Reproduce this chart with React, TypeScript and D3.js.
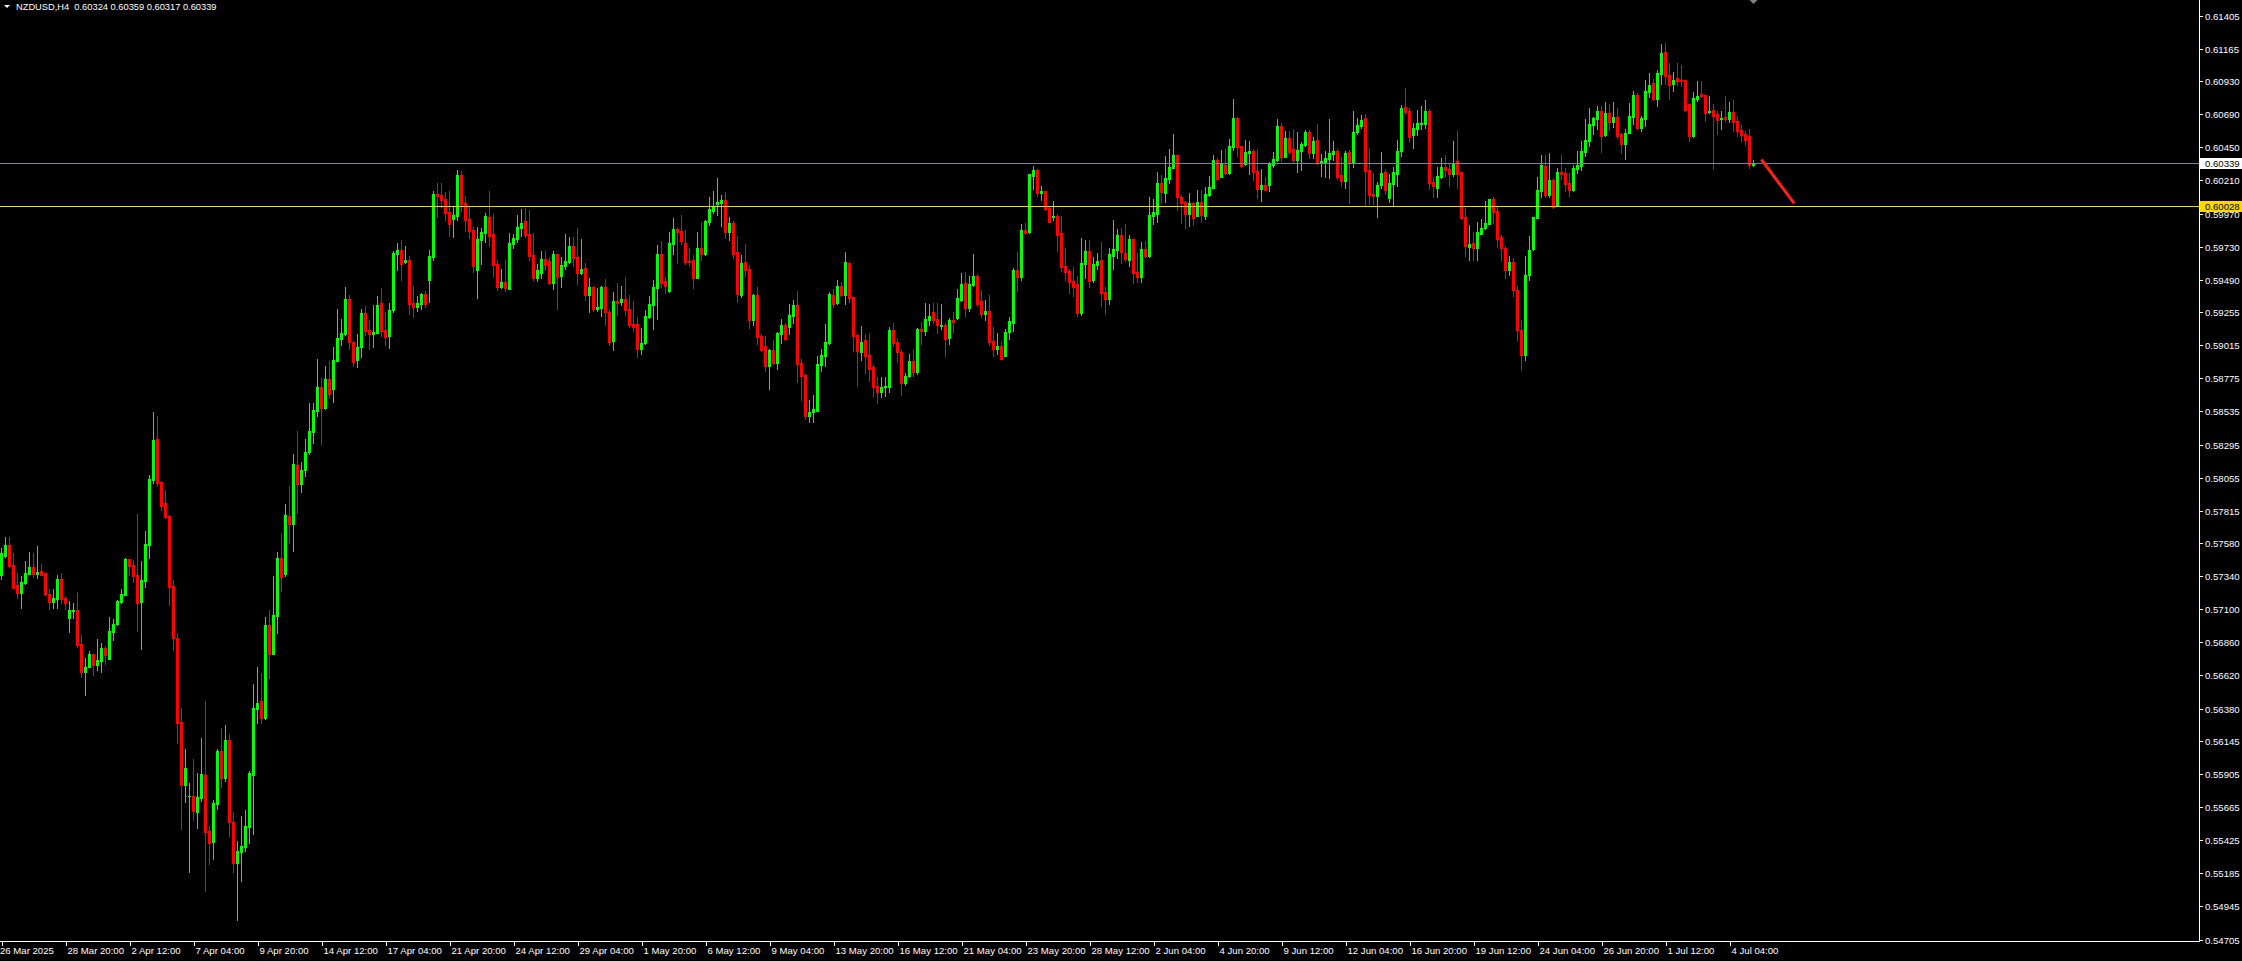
import React, { useEffect } from "react";
import * as d3 from "d3";

// NZDUSD H4 candles, bar 0 = 26 Mar 2025 04:00 (broker time), one bar per 4 hours
const opens = [
0.57349,0.57486,0.57566,0.57421,0.57276,0.57218,0.57291,0.57356,0.57407,0.57356,
0.57378,0.57363,0.57211,0.57153,0.57174,0.57320,0.57182,0.57037,0.57087,0.57095,
0.56848,0.56645,0.56681,0.56776,0.56696,0.56725,0.56819,0.56739,0.56935,0.56993,
0.57153,0.57204,0.57464,0.57421,0.57349,0.57153,0.57305,0.57566,0.58038,0.58335,
0.58023,0.57871,0.57777,0.57269,0.56892,0.56282,0.55825,0.55746,0.55746,0.55629,
0.55731,0.55898,0.55492,0.55412,0.55688,0.56072,0.55876,0.56152,0.55557,0.55260,
0.55339,0.55376,0.55521,0.55898,0.56377,0.56435,0.56311,0.56986,0.56776,0.57051,
0.57472,0.57356,0.57777,0.57719,0.58146,0.58009,0.58110,0.58240,0.58386,0.58538,
0.58712,0.58560,0.58770,0.58698,0.58901,0.59060,0.59096,0.59350,0.59039,0.58908,
0.59002,0.59249,0.59126,0.59096,0.59104,0.59321,0.59126,0.59082,0.59271,0.59677,
0.59706,0.59619,0.59633,0.59321,0.59293,0.59314,0.59387,0.59488,0.59655,0.60112,
0.60105,0.60076,0.59981,0.59931,0.59952,0.60250,0.60047,0.59931,0.59851,0.59561,
0.59778,0.59829,0.59945,0.59822,0.59604,0.59437,0.59474,0.59423,0.59749,0.59786,
0.59865,0.59916,0.59822,0.59670,0.59503,0.59539,0.59640,0.59626,0.59466,0.59677,
0.59517,0.59590,0.59619,0.59735,0.59655,0.59539,0.59575,0.59379,0.59437,0.59278,
0.59285,0.59437,0.59256,0.59046,0.59336,0.59329,0.59350,0.59278,0.59169,0.59169,
0.58988,0.59031,0.59220,0.59307,0.59430,0.59677,0.59481,0.59408,0.59749,0.59858,
0.59844,0.59757,0.59626,0.59633,0.59503,0.59720,0.59677,0.59909,0.59989,0.60039,
0.60047,0.60068,0.59836,0.59902,0.59691,0.59379,0.59619,0.59568,0.59198,0.59379,
0.59082,0.59010,0.58864,0.58981,0.58886,0.59096,0.59162,0.59147,0.59227,0.59307,
0.58886,0.58799,0.58502,0.58531,0.58538,0.58872,0.58937,0.59031,0.59379,0.59321,
0.59445,0.59379,0.59611,0.59365,0.59089,0.58966,0.59053,0.58944,0.58857,0.58719,
0.58676,0.58712,0.58712,0.59126,0.59039,0.58966,0.58741,0.58792,0.58901,0.58821,
0.59133,0.59118,0.59198,0.59256,0.59205,0.59155,0.59162,0.59068,0.59198,0.59213,
0.59343,0.59466,0.59285,0.59452,0.59517,0.59336,0.59242,0.59263,0.59046,0.58988,
0.59010,0.58937,0.59111,0.59176,0.59561,0.59510,0.59851,0.59836,0.60243,0.60286,
0.60119,0.60134,0.60010,0.59945,0.59952,0.59829,0.59590,0.59553,0.59481,0.59459,
0.59249,0.59604,0.59699,0.59488,0.59597,0.59633,0.59401,0.59350,0.59662,0.59706,
0.59815,0.59684,0.59633,0.59786,0.59546,0.59510,0.59713,0.59662,0.59952,0.59967,
0.60192,0.60119,0.60221,0.60301,0.60395,0.60090,0.60054,0.59967,0.60047,0.59952,
0.60054,0.59952,0.60105,0.60155,0.60358,0.60235,0.60322,0.60264,0.60453,0.60663,
0.60460,0.60330,0.60409,0.60424,0.60279,0.60148,0.60177,0.60177,0.60322,0.60358,
0.60605,0.60380,0.60518,0.60438,0.60358,0.60424,0.60467,0.60562,0.60409,0.60504,
0.60337,0.60344,0.60366,0.60402,0.60424,0.60250,0.60206,0.60417,0.60337,0.60562,
0.60605,0.60663,0.60286,0.60112,0.60097,0.60177,0.60271,0.60083,0.60184,0.60257,
0.60424,0.60743,0.60714,0.60540,0.60583,0.60620,0.60620,0.60714,0.60199,0.60155,
0.60235,0.60308,0.60293,0.60257,0.60351,0.60271,0.59945,0.59728,0.59757,0.59720,
0.59822,0.59865,0.59894,0.60076,0.59989,0.59800,0.59720,0.59561,0.59619,0.59416,
0.59126,0.58944,0.59525,0.59713,0.59938,0.60134,0.60315,0.60105,0.60214,0.60032,
0.60271,0.60264,0.60192,0.60141,0.60293,0.60315,0.60417,0.60496,0.60612,0.60656,
0.60714,0.60540,0.60699,0.60634,0.60670,0.60547,0.60475,0.60554,0.60670,0.60830,
0.60591,0.60656,0.60852,0.60917,0.60801,0.60982,0.61142,0.60975,0.60910,0.60953,
0.60939,0.60939,0.60765,0.60533,0.60801,0.60837,0.60830,0.60707,0.60721,0.60692,
0.60656,0.60670,0.60656,0.60707,0.60641,0.60576,0.60547,0.60530,0.60324,
];

const highs = [
0.57544,0.57624,0.57624,0.57508,0.57363,0.57341,0.57450,0.57515,0.57508,0.57559,
0.57428,0.57363,0.57247,0.57247,0.57349,0.57363,0.57196,0.57160,0.57145,0.57225,
0.56913,0.56747,0.56797,0.56776,0.56884,0.56855,0.56834,0.57044,0.57029,0.57167,
0.57247,0.57472,0.57464,0.57457,0.57791,0.57450,0.57668,0.58074,0.58531,0.58502,
0.58030,0.57965,0.57784,0.57312,0.56928,0.56384,0.56087,0.55840,0.56014,0.55912,
0.56166,0.56435,0.55528,0.55717,0.56087,0.56239,0.56260,0.56195,0.55629,0.55419,
0.55601,0.55644,0.55927,0.56558,0.56681,0.56638,0.57044,0.57095,0.57341,0.57515,
0.57653,0.57863,0.57994,0.58226,0.58393,0.58168,0.58335,0.58596,0.58596,0.58915,
0.58777,0.58864,0.58901,0.59002,0.59278,0.59205,0.59437,0.59379,0.59046,0.59096,
0.59278,0.59300,0.59198,0.59307,0.59372,0.59430,0.59256,0.59321,0.59699,0.59757,
0.59778,0.59735,0.59662,0.59445,0.59372,0.59394,0.59408,0.59706,0.60134,0.60192,
0.60192,0.60126,0.60134,0.60025,0.60286,0.60279,0.60097,0.60018,0.59872,0.59872,
0.59865,0.59974,0.60134,0.59967,0.59633,0.59568,0.59633,0.59829,0.59822,0.59960,
0.60003,0.60010,0.59996,0.59829,0.59604,0.59699,0.59699,0.59655,0.59699,0.59677,
0.59655,0.59822,0.59800,0.59800,0.59865,0.59786,0.59611,0.59503,0.59445,0.59430,
0.59445,0.59495,0.59271,0.59401,0.59466,0.59445,0.59510,0.59379,0.59336,0.59220,
0.59140,0.59271,0.59372,0.59488,0.59742,0.59771,0.59510,0.59836,0.59938,0.59865,
0.59960,0.59851,0.59720,0.59670,0.59836,0.59909,0.59923,0.60090,0.60134,0.60228,
0.60105,0.60126,0.59945,0.59916,0.59807,0.59670,0.59749,0.59597,0.59387,0.59437,
0.59096,0.59082,0.58988,0.59053,0.59111,0.59205,0.59176,0.59314,0.59343,0.59408,
0.58915,0.58806,0.58618,0.58654,0.58937,0.58988,0.59169,0.59401,0.59423,0.59488,
0.59474,0.59691,0.59619,0.59365,0.59096,0.59155,0.59096,0.59104,0.58872,0.58785,
0.58785,0.58785,0.59147,0.59176,0.59060,0.58981,0.58813,0.58952,0.58988,0.59140,
0.59184,0.59321,0.59314,0.59321,0.59321,0.59314,0.59176,0.59213,0.59256,0.59423,
0.59539,0.59546,0.59517,0.59677,0.59532,0.59416,0.59343,0.59379,0.59147,0.59104,
0.59046,0.59133,0.59220,0.59575,0.59691,0.59895,0.59902,0.60257,0.60315,0.60293,
0.60170,0.60134,0.60018,0.60061,0.59967,0.59952,0.59720,0.59568,0.59582,0.59517,
0.59793,0.59778,0.59778,0.59655,0.59684,0.59764,0.59437,0.59720,0.59923,0.59858,
0.59865,0.59895,0.59815,0.59786,0.59684,0.59764,0.59771,0.60090,0.60076,0.60271,
0.60250,0.60387,0.60438,0.60547,0.60395,0.60105,0.60061,0.60119,0.60054,0.60141,
0.60141,0.60163,0.60243,0.60395,0.60373,0.60431,0.60438,0.60511,0.60801,0.60670,
0.60460,0.60504,0.60496,0.60438,0.60438,0.60293,0.60235,0.60344,0.60417,0.60656,
0.60627,0.60569,0.60569,0.60583,0.60562,0.60489,0.60576,0.60576,0.60525,0.60620,
0.60402,0.60424,0.60656,0.60496,0.60438,0.60380,0.60424,0.60431,0.60714,0.60663,
0.60685,0.60692,0.60446,0.60264,0.60199,0.60417,0.60293,0.60257,0.60308,0.60504,
0.60757,0.60881,0.60736,0.60627,0.60721,0.60750,0.60794,0.60728,0.60235,0.60308,
0.60373,0.60395,0.60330,0.60496,0.60569,0.60271,0.60010,0.59887,0.59836,0.59909,
0.59931,0.60061,0.60076,0.60090,0.60025,0.59815,0.59735,0.59662,0.59648,0.59445,
0.59198,0.59662,0.59807,0.59945,0.60235,0.60395,0.60395,0.60409,0.60228,0.60300,
0.60395,0.60300,0.60264,0.60322,0.60424,0.60496,0.60656,0.60736,0.60670,0.60750,
0.60750,0.60779,0.60765,0.60779,0.60736,0.60554,0.60583,0.60772,0.60859,0.60844,
0.60678,0.60939,0.60989,0.60946,0.61011,0.61200,0.61207,0.61062,0.60997,0.61062,
0.61048,0.60939,0.60765,0.60852,0.60931,0.60931,0.60830,0.60823,0.60765,0.60714,
0.60714,0.60823,0.60779,0.60794,0.60678,0.60612,0.60569,0.60583,0.60359,
];

const lows = [
0.57320,0.57479,0.57407,0.57254,0.57182,0.57109,0.57283,0.57356,0.57334,0.57327,
0.57349,0.57204,0.57102,0.57109,0.57109,0.57145,0.57102,0.56935,0.57037,0.56826,
0.56609,0.56478,0.56681,0.56623,0.56660,0.56645,0.56703,0.56739,0.56877,0.56986,
0.57145,0.57204,0.57349,0.57298,0.56942,0.56812,0.57261,0.57472,0.58016,0.57994,
0.57820,0.57762,0.57131,0.56805,0.56130,0.55506,0.55702,0.55194,0.55572,0.55514,
0.55709,0.55057,0.55252,0.55289,0.55651,0.55811,0.55854,0.55455,0.55194,0.54846,
0.55129,0.55347,0.55405,0.55470,0.56275,0.56275,0.56304,0.56601,0.56776,0.56928,
0.57232,0.57341,0.57581,0.57523,0.57798,0.57951,0.58066,0.58226,0.58306,0.58502,
0.58299,0.58552,0.58632,0.58603,0.58901,0.59017,0.59089,0.58988,0.58864,0.58857,
0.58930,0.59089,0.58988,0.59002,0.59104,0.59082,0.59017,0.58995,0.59256,0.59561,
0.59488,0.59611,0.59242,0.59220,0.59263,0.59278,0.59293,0.59329,0.59633,0.59945,
0.60018,0.59923,0.59807,0.59800,0.59923,0.59989,0.59844,0.59793,0.59546,0.59358,
0.59604,0.59764,0.59735,0.59517,0.59416,0.59430,0.59408,0.59423,0.59720,0.59764,
0.59807,0.59800,0.59633,0.59488,0.59481,0.59503,0.59561,0.59459,0.59423,0.59278,
0.59437,0.59568,0.59611,0.59590,0.59459,0.59532,0.59343,0.59256,0.59263,0.59263,
0.59227,0.59162,0.59017,0.58981,0.59234,0.59307,0.59234,0.59147,0.59118,0.58930,
0.58952,0.59024,0.59213,0.59133,0.59205,0.59437,0.59394,0.59401,0.59677,0.59611,
0.59749,0.59604,0.59590,0.59430,0.59503,0.59633,0.59670,0.59887,0.59974,0.59960,
0.59880,0.59793,0.59778,0.59648,0.59329,0.59365,0.59517,0.59140,0.59162,0.59024,
0.58973,0.58828,0.58698,0.58879,0.58843,0.59031,0.59053,0.59096,0.59176,0.58748,
0.58618,0.58480,0.58458,0.58458,0.58538,0.58828,0.58864,0.59024,0.59293,0.59314,
0.59372,0.59314,0.59329,0.58973,0.58719,0.58908,0.58813,0.58755,0.58647,0.58596,
0.58640,0.58647,0.58676,0.59010,0.58893,0.58654,0.58727,0.58785,0.58792,0.58806,
0.59024,0.59089,0.59162,0.59176,0.59104,0.59133,0.58937,0.59024,0.59111,0.59205,
0.59336,0.59227,0.59263,0.59445,0.59300,0.59220,0.59198,0.59017,0.58937,0.58952,
0.58915,0.58937,0.59060,0.59118,0.59408,0.59488,0.59829,0.59829,0.60148,0.60097,
0.60068,0.59996,0.59909,0.59923,0.59699,0.59553,0.59488,0.59394,0.59372,0.59227,
0.59234,0.59503,0.59437,0.59474,0.59568,0.59300,0.59242,0.59314,0.59568,0.59648,
0.59611,0.59626,0.59590,0.59466,0.59474,0.59474,0.59655,0.59655,0.59895,0.59909,
0.60047,0.60054,0.60192,0.60301,0.59996,0.59902,0.59865,0.59880,0.59887,0.59952,
0.59909,0.59931,0.60097,0.60155,0.60214,0.60235,0.60257,0.60257,0.60431,0.60388,
0.60308,0.60322,0.60257,0.60214,0.60083,0.60061,0.60141,0.60134,0.60308,0.60351,
0.60351,0.60380,0.60402,0.60344,0.60271,0.60286,0.60460,0.60373,0.60373,0.60330,
0.60242,0.60235,0.60228,0.60358,0.60221,0.60170,0.60155,0.60047,0.60308,0.60547,
0.60591,0.60032,0.60039,0.60039,0.59945,0.60155,0.60112,0.60054,0.60032,0.60170,
0.60387,0.60692,0.60489,0.60446,0.60540,0.60583,0.60591,0.60148,0.60090,0.60090,
0.60228,0.60235,0.60170,0.60242,0.60155,0.59931,0.59662,0.59633,0.59633,0.59633,
0.59822,0.59858,0.59894,0.59902,0.59728,0.59633,0.59503,0.59525,0.59372,0.59053,
0.58835,0.58908,0.59488,0.59706,0.59938,0.60090,0.60090,0.60090,0.60010,0.60032,
0.60221,0.60134,0.60097,0.60134,0.60264,0.60286,0.60387,0.60460,0.60547,0.60583,
0.60417,0.60533,0.60576,0.60598,0.60518,0.60409,0.60366,0.60554,0.60620,0.60583,
0.60569,0.60605,0.60815,0.60794,0.60750,0.60910,0.60910,0.60801,0.60859,0.60902,
0.60895,0.60714,0.60496,0.60525,0.60786,0.60815,0.60641,0.60699,0.60293,0.60547,
0.60583,0.60641,0.60634,0.60569,0.60533,0.60496,0.60467,0.60301,0.60317,
];

const closes = [
0.57508,0.57566,0.57414,0.57254,0.57218,0.57298,0.57363,0.57407,0.57356,0.57370,
0.57349,0.57211,0.57153,0.57182,0.57320,0.57174,0.57145,0.57095,0.57095,0.56841,
0.56645,0.56681,0.56776,0.56696,0.56732,0.56819,0.56768,0.56942,0.56993,0.57160,
0.57211,0.57464,0.57414,0.57341,0.57145,0.57312,0.57573,0.58045,0.58328,0.58016,
0.57849,0.57769,0.57261,0.56892,0.56275,0.55825,0.55949,0.55749,0.55637,0.55738,
0.55905,0.55485,0.55405,0.55695,0.56072,0.55876,0.56152,0.55557,0.55260,0.55347,
0.55383,0.55528,0.55912,0.56384,0.56420,0.56311,0.56986,0.56776,0.57059,0.57472,
0.57334,0.57784,0.57719,0.58154,0.58009,0.58110,0.58240,0.58393,0.58545,0.58712,
0.58560,0.58770,0.58661,0.58908,0.59068,0.59104,0.59350,0.59039,0.58893,0.59002,
0.59249,0.59118,0.59096,0.59111,0.59307,0.59118,0.59075,0.59271,0.59684,0.59706,
0.59604,0.59633,0.59314,0.59293,0.59321,0.59387,0.59314,0.59662,0.60112,0.60097,
0.60068,0.59974,0.59895,0.59960,0.60250,0.60039,0.59923,0.59844,0.59590,0.59786,
0.59836,0.59952,0.59807,0.59597,0.59437,0.59474,0.59430,0.59757,0.59793,0.59872,
0.59902,0.59815,0.59662,0.59503,0.59561,0.59640,0.59597,0.59466,0.59677,0.59510,
0.59597,0.59626,0.59735,0.59648,0.59539,0.59568,0.59379,0.59437,0.59278,0.59293,
0.59437,0.59256,0.59039,0.59336,0.59321,0.59350,0.59271,0.59162,0.59147,0.58988,
0.59031,0.59227,0.59314,0.59437,0.59677,0.59466,0.59445,0.59757,0.59858,0.59836,
0.59771,0.59619,0.59619,0.59503,0.59720,0.59677,0.59916,0.60003,0.60025,0.60054,
0.60068,0.59836,0.59902,0.59677,0.59387,0.59611,0.59561,0.59198,0.59379,0.59075,
0.58981,0.58864,0.58981,0.58886,0.59104,0.59162,0.59060,0.59234,0.59307,0.58879,
0.58792,0.58502,0.58531,0.58552,0.58879,0.58944,0.59039,0.59387,0.59314,0.59445,
0.59379,0.59619,0.59358,0.59082,0.58973,0.59039,0.58937,0.58843,0.58712,0.58676,
0.58712,0.58719,0.59126,0.59031,0.58966,0.58741,0.58792,0.58901,0.58821,0.59133,
0.59118,0.59205,0.59227,0.59198,0.59162,0.59162,0.59060,0.59198,0.59184,0.59358,
0.59459,0.59285,0.59459,0.59517,0.59314,0.59242,0.59263,0.59039,0.58988,0.59010,
0.58915,0.59111,0.59191,0.59561,0.59510,0.59851,0.59829,0.60257,0.60286,0.60119,
0.60134,0.60003,0.59909,0.59952,0.59815,0.59583,0.59546,0.59474,0.59437,0.59249,
0.59611,0.59699,0.59481,0.59604,0.59626,0.59394,0.59350,0.59677,0.59713,0.59815,
0.59691,0.59640,0.59786,0.59539,0.59510,0.59713,0.59662,0.59960,0.59981,0.60192,
0.60126,0.60228,0.60308,0.60395,0.60090,0.60047,0.59967,0.60047,0.59938,0.60054,
0.59960,0.60112,0.60163,0.60358,0.60221,0.60330,0.60264,0.60460,0.60663,0.60453,
0.60315,0.60417,0.60424,0.60271,0.60148,0.60177,0.60141,0.60330,0.60366,0.60605,
0.60380,0.60518,0.60417,0.60358,0.60431,0.60475,0.60562,0.60409,0.60496,0.60337,
0.60351,0.60373,0.60409,0.60424,0.60235,0.60206,0.60409,0.60337,0.60562,0.60612,
0.60649,0.60279,0.60105,0.60097,0.60177,0.60264,0.60141,0.60192,0.60271,0.60424,
0.60736,0.60707,0.60525,0.60591,0.60627,0.60627,0.60714,0.60192,0.60170,0.60243,
0.60308,0.60286,0.60257,0.60337,0.60257,0.59938,0.59735,0.59749,0.59720,0.59836,
0.59865,0.59902,0.60076,0.59981,0.59786,0.59720,0.59561,0.59619,0.59416,0.59126,
0.58944,0.59525,0.59706,0.59945,0.60141,0.60322,0.60105,0.60214,0.60018,0.60271,
0.60257,0.60185,0.60141,0.60300,0.60322,0.60424,0.60504,0.60620,0.60663,0.60714,
0.60533,0.60699,0.60634,0.60670,0.60533,0.60475,0.60554,0.60678,0.60830,0.60591,
0.60663,0.60859,0.60902,0.60801,0.60989,0.61135,0.60968,0.60902,0.60939,0.60931,
0.60931,0.60721,0.60533,0.60808,0.60823,0.60823,0.60699,0.60714,0.60678,0.60649,
0.60663,0.60656,0.60707,0.60634,0.60569,0.60540,0.60504,0.60324,0.60339,
];

// time axis labels, one every 16 bars starting at bar 0
const timeLabels = [
  "26 Mar 2025", "28 Mar 20:00", "2 Apr 12:00", "7 Apr 04:00", "9 Apr 20:00",
  "14 Apr 12:00", "17 Apr 04:00", "21 Apr 20:00", "24 Apr 12:00", "29 Apr 04:00",
  "1 May 20:00", "6 May 12:00", "9 May 04:00", "13 May 20:00", "16 May 12:00",
  "21 May 04:00", "23 May 20:00", "28 May 12:00", "2 Jun 04:00", "4 Jun 20:00",
  "9 Jun 12:00", "12 Jun 04:00", "16 Jun 20:00", "19 Jun 12:00", "24 Jun 04:00",
  "26 Jun 20:00", "1 Jul 12:00", "4 Jul 04:00",
];
const timeLabelStep = 16;

// price axis labels
const priceTicks = [
  0.61405, 0.61165, 0.60930, 0.60690, 0.60450, 0.60210, 0.59970, 0.59730,
  0.59490, 0.59255, 0.59015, 0.58775, 0.58535, 0.58295, 0.58055, 0.57815,
  0.57580, 0.57340, 0.57100, 0.56860, 0.56620, 0.56380, 0.56145, 0.55905,
  0.55665, 0.55425, 0.55185, 0.54945, 0.54705,
];

const bidPrice = 0.60339;
const levelPrice = 0.60028;
// hand-drawn trend line: [bar index, price]
const trendStart = [440.2, 0.60353];
const trendEnd = [447.95, 0.60052];

const symbol = "NZDUSD,H4";
const lastBar = ["0.60324", "0.60359", "0.60317", "0.60339"];

const W = 2242;
const H = 961;
const AXIS_X = 2199;
const AXIS_Y = 941;
const FONT = "'Liberation Sans', Arial, sans-serif";
const AXIS_FONT = 9.6;

export default function App() {
  useEffect(() => {
    document.body.style.margin = "0";
    document.body.style.background = "#000";
  }, []);

  const n = Math.min(opens.length, highs.length, lows.length, closes.length);
  const x = d3.scaleLinear().domain([0, 1]).range([1.5, 5.5]);
  const y = d3.scaleLinear().domain([0.54705, 0.61405]).range([939.5, 15.7]);
  const py = (p: number) => Math.round(y(p));

  const candles = [];
  for (let i = 0; i < n; i++) {
    const o = opens[i], h = highs[i], l = lows[i], c = closes[i];
    const up = c >= o;
    const col = up ? "#00FF00" : "#FF0000";
    const xc = x(i);
    const top = py(Math.max(o, c));
    const bot = py(Math.min(o, c));
    const ht = py(Math.max(h, o, c));
    const lb = py(Math.min(l, o, c));
    candles.push(
      <g key={i} fill={col}>
        <rect x={xc - 0.5} y={ht} width={1} height={lb - ht + 1} />
        <rect x={xc - 1.5} y={top} width={3} height={Math.max(1, bot - top + 1)} />
      </g>
    );
  }

  const fmt = d3.format(".5f");
  const bidY = py(bidPrice) + 0.5;
  const lvlY = py(levelPrice) + 0.5;

  const tx1 = x(trendStart[0]), ty1 = y(trendStart[1]);
  const tx2 = x(trendEnd[0]), ty2 = y(trendEnd[1]);

  const shiftX = x(n - 1);

  return (
    <svg
      width={W}
      height={H}
      style={{ position: "absolute", left: 0, top: 0, display: "block" }}
      fontFamily={FONT}
    >
      <rect x={0} y={0} width={W} height={H} fill="#000" />
      <g shapeRendering="crispEdges">{candles}</g>

      {/* horizontal level and bid line */}
      <line x1={0} x2={AXIS_X} y1={lvlY} y2={lvlY} stroke="#FFD700" strokeWidth={1} shapeRendering="crispEdges" />
      <line x1={0} x2={AXIS_X} y1={bidY} y2={bidY} stroke="#778899" strokeWidth={1} shapeRendering="crispEdges" />

      {/* trend line */}
      <line x1={tx1} y1={ty1} x2={tx2} y2={ty2} stroke="#FF1E1E" strokeWidth={3} strokeLinecap="square" />

      {/* chart shift marker */}
      <polygon points={`${shiftX - 4},0 ${shiftX + 4},0 ${shiftX},4`} fill="#808080" />

      {/* axes */}
      <g shapeRendering="crispEdges" stroke="#FFFFFF">
        <line x1={AXIS_X + 0.5} x2={AXIS_X + 0.5} y1={0} y2={AXIS_Y + 1} />
        <line x1={0} x2={AXIS_X + 1} y1={AXIS_Y + 0.5} y2={AXIS_Y + 0.5} />
      </g>

      {/* price axis */}
      <g fontSize={AXIS_FONT} fill="#FFFFFF">
        {priceTicks.map((p) => {
          const ty = py(p) + 0.5;
          return (
            <g key={p}>
              <line x1={AXIS_X} x2={AXIS_X + 4} y1={ty} y2={ty} stroke="#FFFFFF" shapeRendering="crispEdges" />
              <text x={AXIS_X + 6} y={ty} dy="0.35em">{fmt(p)}</text>
            </g>
          );
        })}
      </g>

      {/* level label */}
      <rect x={AXIS_X + 1} y={lvlY - 5.5} width={W - AXIS_X - 1} height={11} fill="#FFD700" />
      <text x={AXIS_X + 6} y={lvlY} dy="0.35em" fontSize={AXIS_FONT} fill="#000000">{fmt(levelPrice)}</text>
      {/* bid label */}
      <rect x={AXIS_X + 1} y={bidY - 5.5} width={W - AXIS_X - 1} height={11} fill="#FFFFFF" />
      <text x={AXIS_X + 6} y={bidY} dy="0.35em" fontSize={AXIS_FONT} fill="#000000">{fmt(bidPrice)}</text>

      {/* time axis */}
      <g fontSize={AXIS_FONT} fill="#FFFFFF">
        {timeLabels.map((t, k) => {
          const tx = Math.round(x(k * timeLabelStep)) + 0.5;
          return (
            <g key={t}>
              <line x1={tx} x2={tx} y1={AXIS_Y} y2={AXIS_Y + 5} stroke="#FFFFFF" shapeRendering="crispEdges" />
              <text x={k === 0 ? 0 : tx + 1} y={AXIS_Y + 13}>{t}</text>
            </g>
          );
        })}
      </g>

      {/* title */}
      <polygon points="4,5 10,5 7,8" fill="#FFFFFF" />
      <text x={16} y={10} fontSize={9.3} fill="#FFFFFF" xmlSpace="preserve">
        {`${symbol}  ${lastBar.join(" ")}`}
      </text>
    </svg>
  );
}
